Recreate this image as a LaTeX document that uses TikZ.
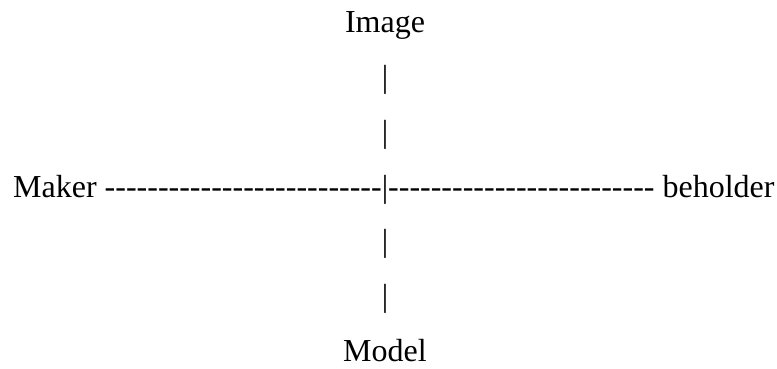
\documentclass[tikz,border=0pt]{standalone}
\usepackage{fontspec}
\setmainfont{Liberation Serif}
\usetikzlibrary{positioning}

\newcommand{\dashrun}[1]{\foreach \d in {1,...,#1}{-\kern0pt}}

\begin{document}
\begin{tikzpicture}[x=1pt, y=-1pt,
	every node/.style={inner sep=0pt, outer sep=0pt, font=\fontsize{32}{38}\selectfont}]
	
	\useasboundingbox (0,0) rectangle (777,369);
	
	\node [anchor=base] (hub) at (385,197) {|};
	
	\node [base left=0pt of hub] (left-run) {\dashrun{26}};
	\node [base left=8pt of left-run] (maker) {Maker};
	
	\node [base right=0pt of hub] (right-run) {\dashrun{25}};
	\node [base right=8pt of right-run] (beholder) {beholder};
	
	\foreach \b/\y in {1/87.7, 2/142.3, 3/251.7, 4/306.3}
	\node [anchor=base] (bar-\b) at (385,\y) {|};
	
	\node [anchor=base] (image) at (385,33) {Image};
	\node [anchor=base] (model) at (385,361) {Model};
	
\end{tikzpicture}
\end{document}
